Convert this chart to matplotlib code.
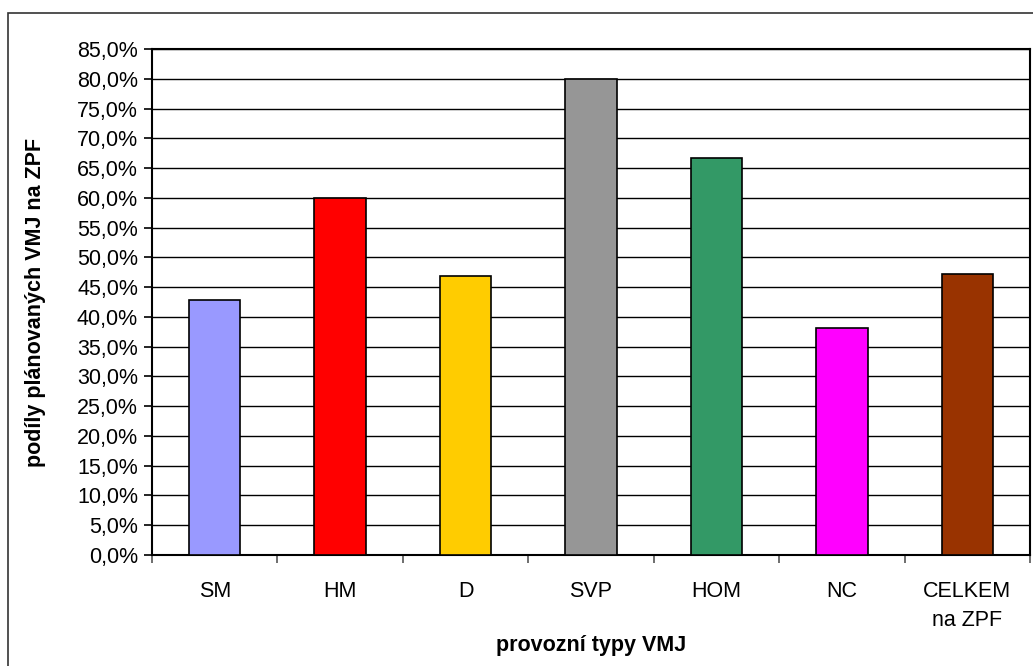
import matplotlib.pyplot as plt
from matplotlib.patches import Rectangle
from matplotlib.ticker import FuncFormatter, MultipleLocator, FixedLocator
import numpy as np

# podíly plánovaných VMJ na ZPF podle provozních typů
typy = ['SM', 'HM', 'D', 'SVP', 'HOM', 'NC', 'CELKEM\nna ZPF']
podily = [42.8, 60.0, 46.9, 80.0, 66.7, 38.1, 47.2]
barvy = ['#9999FF', '#FF0000', '#FFCC00', '#969696', '#339966', '#FF00FF', '#993300']

plt.rcParams['font.family'] = ['Liberation Sans', 'DejaVu Sans']
fs = 15.5

fig = plt.figure(figsize=(10.33, 6.66), dpi=100)
fig.patches.append(Rectangle((8 / 1033, -0.1), 1.2, 1.1 - 13 / 666,
                             transform=fig.transFigure, fill=False,
                             edgecolor='#333333', linewidth=1.2))

ax = fig.add_axes([152 / 1033, 1 - 555 / 666, 878 / 1033, 506 / 666])
x = np.arange(len(typy))
ax.bar(x, podily, width=0.41, color=barvy, edgecolor='black', linewidth=1.2, zorder=3)

ax.set_xlim(-0.5, len(typy) - 0.5)
ax.set_ylim(0, 85)
ax.yaxis.set_major_locator(MultipleLocator(5))
ax.yaxis.set_major_formatter(FuncFormatter(lambda v, p: f'{v:.1f}%'.replace('.', ',')))
ax.grid(axis='y', color='black', linewidth=1, zorder=0)

ax.set_xticks(x)
ax.set_xticklabels(typy, fontsize=fs, linespacing=1.45, va='top')
ax.xaxis.set_minor_locator(FixedLocator(np.arange(-0.5, len(typy), 1)))
ax.tick_params(axis='x', which='major', length=0, pad=19)
ax.tick_params(axis='x', which='minor', length=6, width=1.2, color='#555555')
ax.tick_params(axis='y', length=6, width=1.2, labelsize=fs, pad=4)

for s in ax.spines.values():
    s.set_linewidth(1.5)

ax.set_ylabel('podíly plánovaných VMJ na ZPF', fontsize=fs, fontweight='bold', va='center')
ax.yaxis.set_label_coords((36 - 152) / 878, 0.5)
ax.set_xlabel('provozní typy VMJ', fontsize=fs, fontweight='bold', va='center')
ax.xaxis.set_label_coords(0.5, (555 - 645) / 506)

fig.savefig('out.png', dpi=100)
